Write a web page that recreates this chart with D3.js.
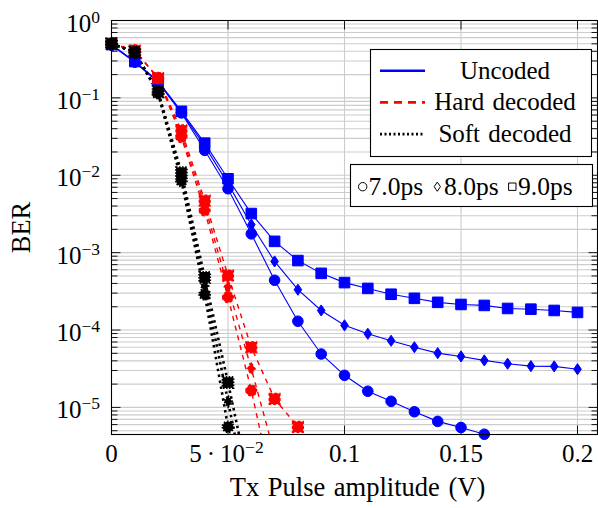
<!DOCTYPE html>
<html>
<head>
<meta charset="utf-8">
<script src="https://cdn.jsdelivr.net/npm/d3@7"></script>
<style>
  body { margin: 0; background: #fff; }
  text { font-family: "Liberation Serif", "Times New Roman", Times, serif; fill: #000; }
</style>
</head>
<body>
<svg id="chart"></svg>
<script>
// Tx pulse amplitude (V)
const amplitude = [0, 0.01, 0.02, 0.03, 0.04, 0.05, 0.06, 0.07, 0.08, 0.09, 0.10,
                   0.11, 0.12, 0.13, 0.14, 0.15, 0.16, 0.17, 0.18, 0.19, 0.20];

// BER, uncoded
const uncoded7 = [0.48, 0.29, 0.16, 0.064, 0.021, 0.0067, 0.00175, 0.00044, 0.00013, 4.9e-5, 2.6e-5,
                  1.62e-5, 1.2e-5, 8.8e-6, 6.6e-6, 5.5e-6, 4.5e-6];
const uncoded8 = [0.48, 0.29, 0.16, 0.065, 0.024, 0.0078, 0.0023, 0.00077, 0.000332, 0.000179, 0.000115,
                  8.95e-5, 7.27e-5, 6.0e-5, 5.03e-5, 4.56e-5, 4.05e-5, 3.67e-5, 3.42e-5, 3.39e-5, 3.12e-5];
const uncoded9 = [0.49, 0.295, 0.165, 0.067, 0.026, 0.009, 0.0032, 0.0014, 0.00079, 0.00054, 0.00041,
                  0.000345, 0.00029, 0.000257, 0.000228, 0.000214, 0.000208, 0.00019, 0.000186, 0.000179, 0.000169];

// BER, hard decoded
const hard7 = [0.5, 0.41, 0.18, 0.031, 0.0035, 0.000266, 1.66e-5, 7e-7];
const hard8 = [0.5, 0.41, 0.18, 0.034, 0.0041, 0.00036, 3.16e-5, 2.5e-6];
const hard9 = [0.5, 0.41, 0.18, 0.038, 0.0047, 0.000507, 6.0e-5, 1.29e-5, 5.6e-6];

// BER, soft decoded
const soft7 = [0.5, 0.39, 0.115, 0.0085, 0.00029, 5.6e-6, 1.5e-7];
const soft8 = [0.5, 0.39, 0.118, 0.0095, 0.00037, 1.2e-5, 4e-7];
const soft9 = [0.5, 0.39, 0.12, 0.0108, 0.00048, 2.1e-5, 8e-7];

const xTicks = [0, 0.05, 0.1, 0.15, 0.2];
const xTickLabels = ["0", "5\u2009·\u200910|−2", "0.1", "0.15", "0.2"];
const yExponents = [0, -1, -2, -3, -4, -5];
const codingNames = ["Uncoded", "Hard decoded", "Soft decoded"];
const pulseNames = ["7.0ps", "8.0ps", "9.0ps"];

const W = 598, H = 508;
const plot = { left: 111.5, right: 597.5, top: 20.5, bottom: 434.5 };
const yMin = Math.pow(10, -5.35);

const svg = d3.select("#chart").attr("width", W).attr("height", H)
    .attr("font-family", "'Liberation Serif', 'Times New Roman', Times, serif");

const x = d3.scaleLinear().domain([0, (plot.right - plot.left) / 2330]).range([plot.left, plot.right]);
const y = d3.scaleLog().domain([yMin, 1]).range([plot.bottom, plot.top]);

svg.append("defs").append("clipPath").attr("id", "clip")
    .append("rect")
    .attr("x", plot.left).attr("y", plot.top)
    .attr("width", plot.right - plot.left).attr("height", plot.bottom - plot.top);

// grid
const minorVals = [];
for (let d = -6; d <= 0; d++) {
    for (let k = 1; k <= 9; k++) {
        const v = k * Math.pow(10, d);
        if (v >= yMin && v <= 1) minorVals.push(v);
    }
}
const grid = svg.append("g");
grid.selectAll(".hg").data(minorVals).enter().append("line")
    .attr("x1", plot.left).attr("x2", plot.right)
    .attr("y1", d => y(d)).attr("y2", d => y(d))
    .attr("stroke", "#cccccc").attr("stroke-width", 1.1);
grid.selectAll(".vg").data(xTicks.slice(1)).enter().append("line")
    .attr("x1", d => x(d)).attr("x2", d => x(d))
    .attr("y1", plot.top).attr("y2", plot.bottom)
    .attr("stroke", "#cccccc").attr("stroke-width", 1.1);

// ticks (inward, both sides)
const ticks = svg.append("g").attr("stroke", "#000").attr("stroke-width", 0.9);
minorVals.forEach(v => {
    const major = Math.abs(Math.log10(v) - Math.round(Math.log10(v))) < 1e-9;
    const len = major ? 9 : 6;
    ticks.append("line").attr("x1", plot.left).attr("x2", plot.left + len).attr("y1", y(v)).attr("y2", y(v));
    ticks.append("line").attr("x1", plot.right).attr("x2", plot.right - len).attr("y1", y(v)).attr("y2", y(v));
});
xTicks.forEach(v => {
    ticks.append("line").attr("x1", x(v)).attr("x2", x(v)).attr("y1", plot.bottom).attr("y2", plot.bottom - 9);
    ticks.append("line").attr("x1", x(v)).attr("x2", x(v)).attr("y1", plot.top).attr("y2", plot.top + 9);
});

// marker shapes
function markPath(kind, s) {
    if (kind === "circle") {
        const r = s;
        return `M${-r},0A${r},${r} 0 1,0 ${r},0A${r},${r} 0 1,0 ${-r},0Z`;
    }
    if (kind === "diamond") {
        const w = s * 0.72, h = s * 1.05;
        return `M0,${-h}L${w},0L0,${h}L${-w},0Z`;
    }
    return `M${-s},${-s}H${s}V${s}H${-s}Z`;
}

const series = [
    { values: uncoded9, mark: "square", color: "#0000ff", dash: null, width: 1.1, mdash: null, mw: 1 },
    { values: uncoded8, mark: "diamond", color: "#0000ff", dash: null, width: 1.1, mdash: null, mw: 1 },
    { values: uncoded7, mark: "circle", color: "#0000ff", dash: null, width: 1.1, mdash: null, mw: 1 },
    { values: hard9, mark: "square", color: "#ff0000", dash: "5,5", width: 1.4, mdash: "3,2", mw: 1.5 },
    { values: hard8, mark: "diamond", color: "#ff0000", dash: "5,5", width: 1.4, mdash: "3,2", mw: 1.5 },
    { values: hard7, mark: "circle", color: "#ff0000", dash: "5,5", width: 1.4, mdash: "3,2", mw: 1.5 },
    { values: soft9, mark: "square", color: "#000", dash: "2.5,3.5", width: 2.6, mdash: "1.5,1.5", mw: 2.2 },
    { values: soft8, mark: "diamond", color: "#000", dash: "2.5,3.5", width: 2.6, mdash: "1.5,1.5", mw: 2.2 },
    { values: soft7, mark: "circle", color: "#000", dash: "2.5,3.5", width: 2.6, mdash: "1.5,1.5", mw: 2.2 }
];

const line = d3.line().x(d => x(d[0])).y(d => y(d[1]));
const marks = [];
series.forEach(s => {
    const pts = s.values.map((v, i) => [amplitude[i], v]);
    svg.append("path")
        .attr("clip-path", "url(#clip)")
        .attr("d", line(pts))
        .attr("fill", "none")
        .attr("stroke", s.color)
        .attr("stroke-width", s.width)
        .attr("stroke-dasharray", s.dash);
    marks.push({ s, pts });
});
// markers drawn after lines, blue -> red -> black
marks.forEach(({ s, pts }) => {
    svg.append("g").selectAll("path")
        .data(pts.filter(p => p[1] >= yMin * 0.999))
        .enter().append("path")
        .attr("transform", d => `translate(${x(d[0])},${y(d[1])})`)
        .attr("d", markPath(s.mark, 5.3))
        .attr("fill", s.color)
        .attr("stroke", s.color)
        .attr("stroke-width", s.mw)
        .attr("stroke-dasharray", s.mdash);
});

// frame
svg.append("rect")
    .attr("x", plot.left).attr("y", plot.top)
    .attr("width", plot.right - plot.left).attr("height", plot.bottom - plot.top)
    .attr("fill", "none").attr("stroke", "#000").attr("stroke-width", 1.1);

// y tick labels
yExponents.forEach(e => {
    const t = svg.append("text")
        .attr("x", 100).attr("y", y(Math.pow(10, e)) + 11)
        .attr("text-anchor", "end")
        .style("font-size", "25px");
    t.append("tspan").text("10");
    t.append("tspan").attr("dy", -9).style("font-size", "17.5px").text(e === 0 ? "0" : "−" + (-e));
});

// x tick labels
xTicks.forEach((v, i) => {
    const parts = xTickLabels[i].split("|");
    const t = svg.append("text")
        .attr("x", x(v) - (parts.length > 1 ? 1.5 : 0)).attr("y", 461.5)
        .attr("text-anchor", "middle")
        .style("font-size", "25px");
    t.append("tspan").text(parts[0]);
    if (parts.length > 1) {
        t.append("tspan").attr("dy", -9).style("font-size", "17.5px").text(parts[1]);
    }
});

// axis titles
svg.append("text")
    .attr("x", (plot.left + plot.right) / 2 + 3).attr("y", 496)
    .attr("text-anchor", "middle")
    .style("font-size", "26.5px")
    .style("word-spacing", "2px")
    .text("Tx Pulse amplitude (V)");

svg.append("text")
    .attr("transform", `translate(30,${(plot.top + plot.bottom) / 2}) rotate(-90)`)
    .attr("text-anchor", "middle")
    .style("font-size", "26.5px")
    .text("BER");

// legend: coding
const leg1 = svg.append("g");
leg1.append("rect")
    .attr("x", 370.5).attr("y", 49.5).attr("width", 221).attr("height", 107)
    .attr("fill", "#fff").attr("stroke", "#000").attr("stroke-width", 1.1);
const legStyles = [
    { color: "#0000ff", dash: null, width: 2.6 },
    { color: "#ff0000", dash: "8,6", width: 2.6 },
    { color: "#000", dash: "2,2.5", width: 2.6 }
];
codingNames.forEach((name, i) => {
    const cy = 70.7 + i * 31.7;
    leg1.append("line")
        .attr("x1", 380).attr("x2", 425).attr("y1", cy).attr("y2", cy)
        .attr("stroke", legStyles[i].color)
        .attr("stroke-width", legStyles[i].width)
        .attr("stroke-dasharray", legStyles[i].dash);
    leg1.append("text")
        .attr("x", 505).attr("y", cy + 7.8)
        .attr("text-anchor", "middle")
        .style("font-size", "25px")
        .style("word-spacing", "2px")
        .text(name);
});

// legend: pulse width markers
const leg2 = svg.append("g");
leg2.append("rect")
    .attr("x", 350.5).attr("y", 164.5).attr("width", 242).attr("height", 42)
    .attr("fill", "#fff").attr("stroke", "#000").attr("stroke-width", 1.1);
const legMarks = ["circle", "diamond", "square"];
const legMarkX = [362.7, 437.3, 512.3];
const legTextX = [368.5, 444, 518];
pulseNames.forEach((name, i) => {
    leg2.append("path")
        .attr("transform", `translate(${legMarkX[i]},186.7)`)
        .attr("d", markPath(legMarks[i], legMarks[i] === "circle" ? 4.2 : legMarks[i] === "diamond" ? 4.4 : 3.7))
        .attr("fill", "none").attr("stroke", "#000").attr("stroke-width", 1);
    leg2.append("text")
        .attr("x", legTextX[i]).attr("y", 195)
        .style("font-size", "25.5px")
        .text(name);
});
</script>
</body>
</html>
